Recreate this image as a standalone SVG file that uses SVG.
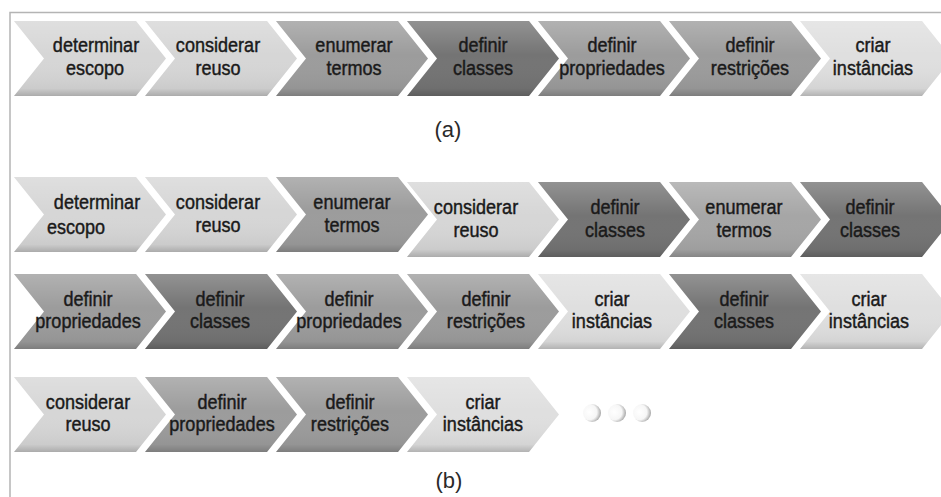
<svg xmlns="http://www.w3.org/2000/svg" xmlns:xlink="http://www.w3.org/1999/xlink" width="941" height="497" viewBox="0 0 941 497">
<style>
.L{fill:#d6d6d6}
.L2{fill:#dfdfdf}
.M{fill:#9c9c9c}
.M2{fill:#a6a6a6}
.D{fill:#747474}
.sh{fill:url(#shade)}
text.t{font-family:"Liberation Sans",Arial,sans-serif;font-size:21px;fill:#1a1a1a;stroke:#1a1a1a;stroke-width:0.45;text-anchor:middle}
text.cap{font-family:"Liberation Sans",Arial,sans-serif;font-size:22px;fill:#2a2a2a;text-anchor:middle}
</style>
<defs>
<path id="chev" d="M0,0 H122 L152,37.5 L122,75 H0 L30,37.5 Z"/>
<linearGradient id="shade" x1="0" y1="0" x2="0" y2="1">
<stop offset="0" stop-color="#ffffff" stop-opacity="0.22"/>
<stop offset="0.45" stop-color="#ffffff" stop-opacity="0"/>
<stop offset="0.9" stop-color="#000000" stop-opacity="0.05"/>
<stop offset="1" stop-color="#000000" stop-opacity="0.2"/>
</linearGradient>
<radialGradient id="ball" cx="0.35" cy="0.45" r="0.65">
<stop offset="0" stop-color="#ffffff"/>
<stop offset="0.65" stop-color="#f6f6f6"/>
<stop offset="1" stop-color="#a8a8a8"/>
</radialGradient>
</defs>
<rect width="941" height="497" fill="#ffffff"/>
<path d="M10,497 V12.5 H941" fill="none" stroke="#b4b4b4" stroke-width="1.5"/>

<!-- (a) row -->
<g id="a1"><use xlink:href="#chev" x="14" y="21" class="L"/><use xlink:href="#chev" x="14" y="21" class="sh"/><text class="t" transform="matrix(.86 0 0 1 96 52)">determinar</text><text class="t" transform="matrix(.86 0 0 1 95 75)">escopo</text></g>
<g id="a2"><use xlink:href="#chev" x="145" y="21" class="L"/><use xlink:href="#chev" x="145" y="21" class="sh"/><text class="t" transform="matrix(.86 0 0 1 218 52)">considerar</text><text class="t" transform="matrix(.86 0 0 1 218 75)">reuso</text></g>
<g id="a3"><use xlink:href="#chev" x="276" y="21" class="M"/><use xlink:href="#chev" x="276" y="21" class="sh"/><text class="t" transform="matrix(.86 0 0 1 354 52)">enumerar</text><text class="t" transform="matrix(.86 0 0 1 354 75)">termos</text></g>
<g id="a4"><use xlink:href="#chev" x="407" y="21" class="D"/><use xlink:href="#chev" x="407" y="21" class="sh"/><text class="t" transform="matrix(.86 0 0 1 483 52)">definir</text><text class="t" transform="matrix(.86 0 0 1 483 75)">classes</text></g>
<g id="a5"><use xlink:href="#chev" x="538" y="21" class="M"/><use xlink:href="#chev" x="538" y="21" class="sh"/><text class="t" transform="matrix(.86 0 0 1 612 52)">definir</text><text class="t" transform="matrix(.86 0 0 1 612 75)">propriedades</text></g>
<g id="a6"><use xlink:href="#chev" x="669" y="21" class="M"/><use xlink:href="#chev" x="669" y="21" class="sh"/><text class="t" transform="matrix(.86 0 0 1 750 52)">definir</text><text class="t" transform="matrix(.86 0 0 1 750 75)">restrições</text></g>
<g id="a7"><use xlink:href="#chev" x="800" y="21" class="L2"/><use xlink:href="#chev" x="800" y="21" class="sh"/><text class="t" transform="matrix(.86 0 0 1 873 52)">criar</text><text class="t" transform="matrix(.86 0 0 1 873 75)">instâncias</text></g>
<text class="cap" x="448" y="137">(a)</text>

<!-- (b) row 1 -->
<g id="b1"><use xlink:href="#chev" x="14" y="177" class="L"/><use xlink:href="#chev" x="14" y="177" class="sh"/><text class="t" transform="matrix(.86 0 0 1 97 209)">determinar</text><text class="t" transform="matrix(.86 0 0 1 76 234)">escopo</text></g>
<g id="b2"><use xlink:href="#chev" x="145" y="177" class="L"/><use xlink:href="#chev" x="145" y="177" class="sh"/><text class="t" transform="matrix(.86 0 0 1 218 209)">considerar</text><text class="t" transform="matrix(.86 0 0 1 218 232)">reuso</text></g>
<g id="b3"><use xlink:href="#chev" x="276" y="177" class="M"/><use xlink:href="#chev" x="276" y="177" class="sh"/><text class="t" transform="matrix(.86 0 0 1 352 209)">enumerar</text><text class="t" transform="matrix(.86 0 0 1 352 232)">termos</text></g>
<g id="b4"><use xlink:href="#chev" x="407" y="182" class="L"/><use xlink:href="#chev" x="407" y="182" class="sh"/><text class="t" transform="matrix(.86 0 0 1 476 214)">considerar</text><text class="t" transform="matrix(.86 0 0 1 476 237)">reuso</text></g>
<g id="b5"><use xlink:href="#chev" x="538" y="182" class="D"/><use xlink:href="#chev" x="538" y="182" class="sh"/><text class="t" transform="matrix(.86 0 0 1 615 214)">definir</text><text class="t" transform="matrix(.86 0 0 1 615 237)">classes</text></g>
<g id="b6"><use xlink:href="#chev" x="669" y="182" class="M2"/><use xlink:href="#chev" x="669" y="182" class="sh"/><text class="t" transform="matrix(.86 0 0 1 744 214)">enumerar</text><text class="t" transform="matrix(.86 0 0 1 744 237)">termos</text></g>
<g id="b7"><use xlink:href="#chev" x="800" y="182" class="D"/><use xlink:href="#chev" x="800" y="182" class="sh"/><text class="t" transform="matrix(.86 0 0 1 870 214)">definir</text><text class="t" transform="matrix(.86 0 0 1 870 237)">classes</text></g>

<!-- (b) row 2 -->
<g id="b8"><use xlink:href="#chev" x="14" y="274" class="M"/><use xlink:href="#chev" x="14" y="274" class="sh"/><text class="t" transform="matrix(.86 0 0 1 88 306)">definir</text><text class="t" transform="matrix(.86 0 0 1 88 328)">propriedades</text></g>
<g id="b9"><use xlink:href="#chev" x="145" y="274" class="D"/><use xlink:href="#chev" x="145" y="274" class="sh"/><text class="t" transform="matrix(.86 0 0 1 220 306)">definir</text><text class="t" transform="matrix(.86 0 0 1 220 328)">classes</text></g>
<g id="b10"><use xlink:href="#chev" x="276" y="274" class="M"/><use xlink:href="#chev" x="276" y="274" class="sh"/><text class="t" transform="matrix(.86 0 0 1 349 306)">definir</text><text class="t" transform="matrix(.86 0 0 1 349 328)">propriedades</text></g>
<g id="b11"><use xlink:href="#chev" x="407" y="274" class="M"/><use xlink:href="#chev" x="407" y="274" class="sh"/><text class="t" transform="matrix(.86 0 0 1 486 306)">definir</text><text class="t" transform="matrix(.86 0 0 1 486 328)">restrições</text></g>
<g id="b12"><use xlink:href="#chev" x="538" y="274" class="L2"/><use xlink:href="#chev" x="538" y="274" class="sh"/><text class="t" transform="matrix(.86 0 0 1 612 306)">criar</text><text class="t" transform="matrix(.86 0 0 1 612 328)">instâncias</text></g>
<g id="b13"><use xlink:href="#chev" x="669" y="274" class="D"/><use xlink:href="#chev" x="669" y="274" class="sh"/><text class="t" transform="matrix(.86 0 0 1 744 306)">definir</text><text class="t" transform="matrix(.86 0 0 1 744 328)">classes</text></g>
<g id="b14"><use xlink:href="#chev" x="800" y="274" class="L2"/><use xlink:href="#chev" x="800" y="274" class="sh"/><text class="t" transform="matrix(.86 0 0 1 869 306)">criar</text><text class="t" transform="matrix(.86 0 0 1 869 328)">instâncias</text></g>

<!-- (b) row 3 -->
<g id="b15"><use xlink:href="#chev" x="14" y="377" class="L"/><use xlink:href="#chev" x="14" y="377" class="sh"/><text class="t" transform="matrix(.86 0 0 1 88 409)">considerar</text><text class="t" transform="matrix(.86 0 0 1 88 431)">reuso</text></g>
<g id="b16"><use xlink:href="#chev" x="145" y="377" class="M"/><use xlink:href="#chev" x="145" y="377" class="sh"/><text class="t" transform="matrix(.86 0 0 1 222 409)">definir</text><text class="t" transform="matrix(.86 0 0 1 222 431)">propriedades</text></g>
<g id="b17"><use xlink:href="#chev" x="276" y="377" class="M"/><use xlink:href="#chev" x="276" y="377" class="sh"/><text class="t" transform="matrix(.86 0 0 1 350 409)">definir</text><text class="t" transform="matrix(.86 0 0 1 350 431)">restrições</text></g>
<g id="b18"><use xlink:href="#chev" x="407" y="377" class="L2"/><use xlink:href="#chev" x="407" y="377" class="sh"/><text class="t" transform="matrix(.86 0 0 1 483 409)">criar</text><text class="t" transform="matrix(.86 0 0 1 483 431)">instâncias</text></g>
<g id="dots">
<circle cx="592" cy="413" r="9" fill="url(#ball)"/>
<circle cx="617" cy="413" r="9" fill="url(#ball)"/>
<circle cx="642" cy="413" r="9" fill="url(#ball)"/>
</g>
<text class="cap" x="449" y="488">(b)</text>
</svg>
